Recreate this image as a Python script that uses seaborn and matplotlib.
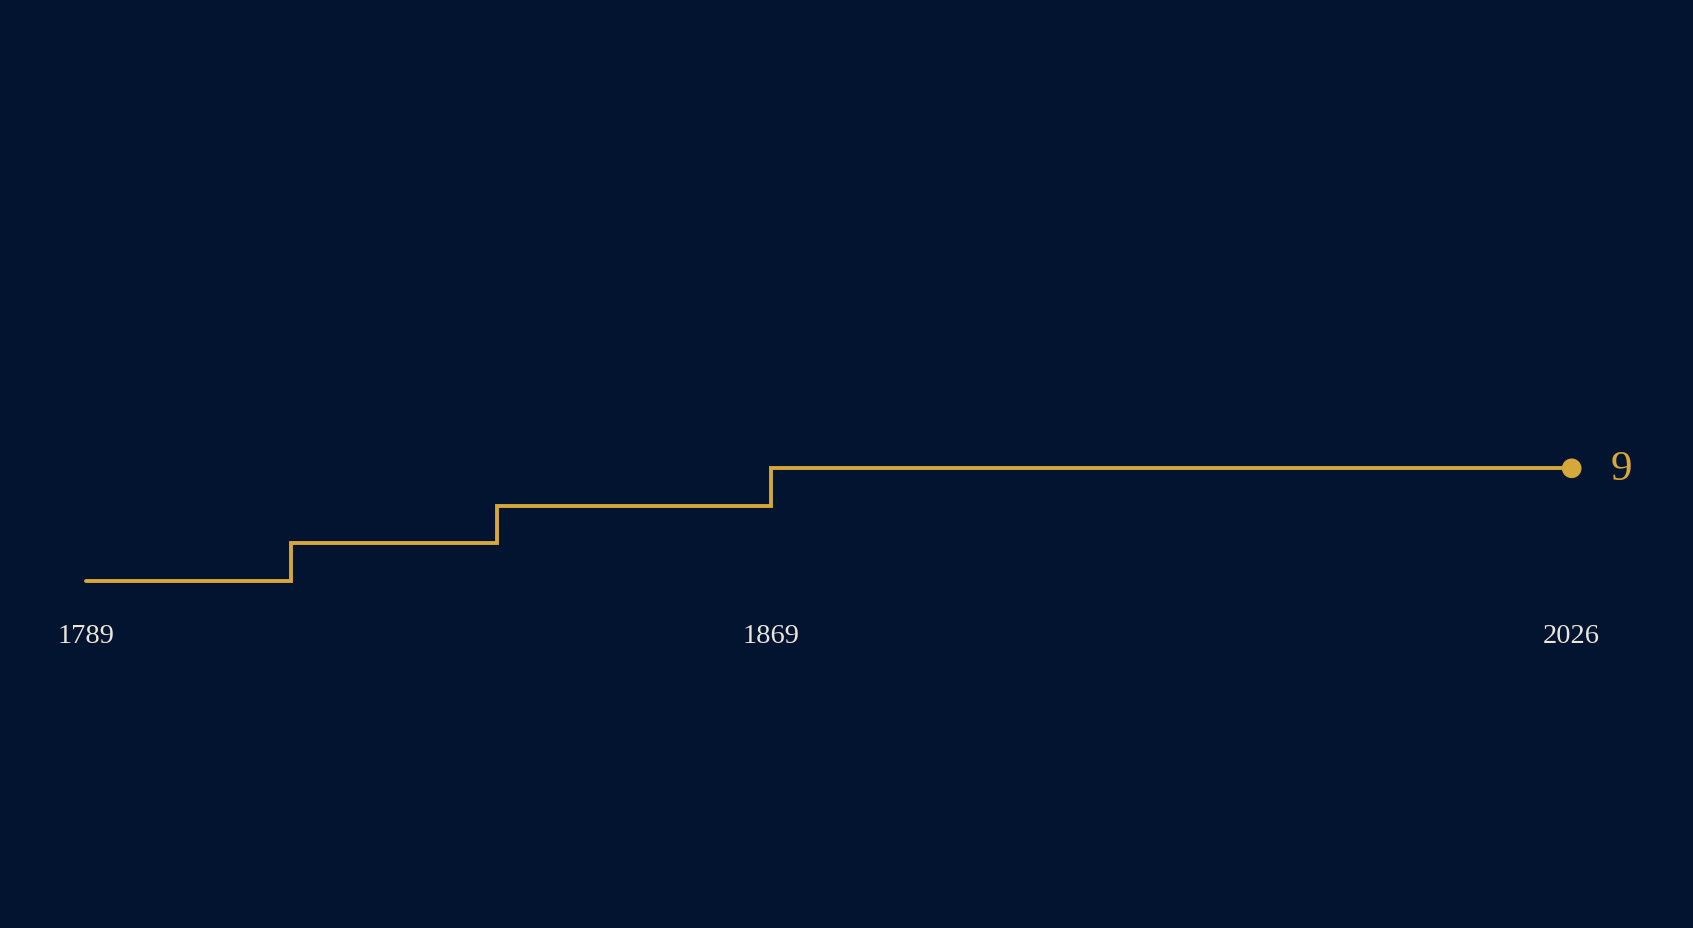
import numpy as np
import matplotlib
matplotlib.use("Agg")
import matplotlib.pyplot as plt
import seaborn as sns

# size of the court over time
years = [1789, 1813, 1837, 1869, 2026]
justices = [6, 7, 8, 9, 9]
tick_years = [1789, 1869, 2026]
tick_labels = ["1789", "1869", "2026"]

bg = "#02142f"
gold = "#d6a73a"
cream = "#ece6d8"

sns.set_style("dark")
plt.rcParams["font.family"] = ["Liberation Serif", "DejaVu Serif"]


# piecewise scale: 1789-1869 gets more room than 1869-2026
def fwd(y):
    y = np.asarray(y, dtype=float)
    return np.where(y <= 1869, (y - 1789) * 685 / 80, 685 + (y - 1869) * 801 / 157)


def inv(u):
    u = np.asarray(u, dtype=float)
    return np.where(u <= 685, 1789 + u * 80 / 685, 1869 + (u - 685) * 157 / 801)


fig = plt.figure(figsize=(16.93, 9.29), dpi=100, facecolor=bg)
ax = fig.add_axes([0, 1 - 600 / 929, 1, 600 / 929])
ax.set_facecolor(bg)
ax.set_xscale("function", functions=(fwd, inv))

sns.lineplot(x=years, y=justices, drawstyle="steps-post", color=gold,
             linewidth=2.8, ax=ax, solid_joinstyle="miter",
             solid_capstyle="round")
sns.scatterplot(x=years[-1:], y=justices[-1:], color=gold, s=200,
                edgecolor="none", ax=ax, zorder=5)

ax.annotate(str(justices[-1]), (years[-1], justices[-1]), xytext=(36, 0),
            textcoords="offset points", ha="center", va="center",
            fontsize=31, color=gold)

ax.set_xlim(inv(-85.7), inv(1607.3))
ax.set_ylim(5.512, 21.525)
ax.set_xticks(tick_years)
ax.set_xticklabels(tick_labels)
ax.set_yticks([])
ax.tick_params(axis="x", length=0, pad=17, labelsize=20.5, colors=cream)
ax.grid(False)
for s in ax.spines.values():
    s.set_visible(False)
ax.set_xlabel("")
ax.set_ylabel("")

fig.savefig("out.png", dpi=100, facecolor=bg)
